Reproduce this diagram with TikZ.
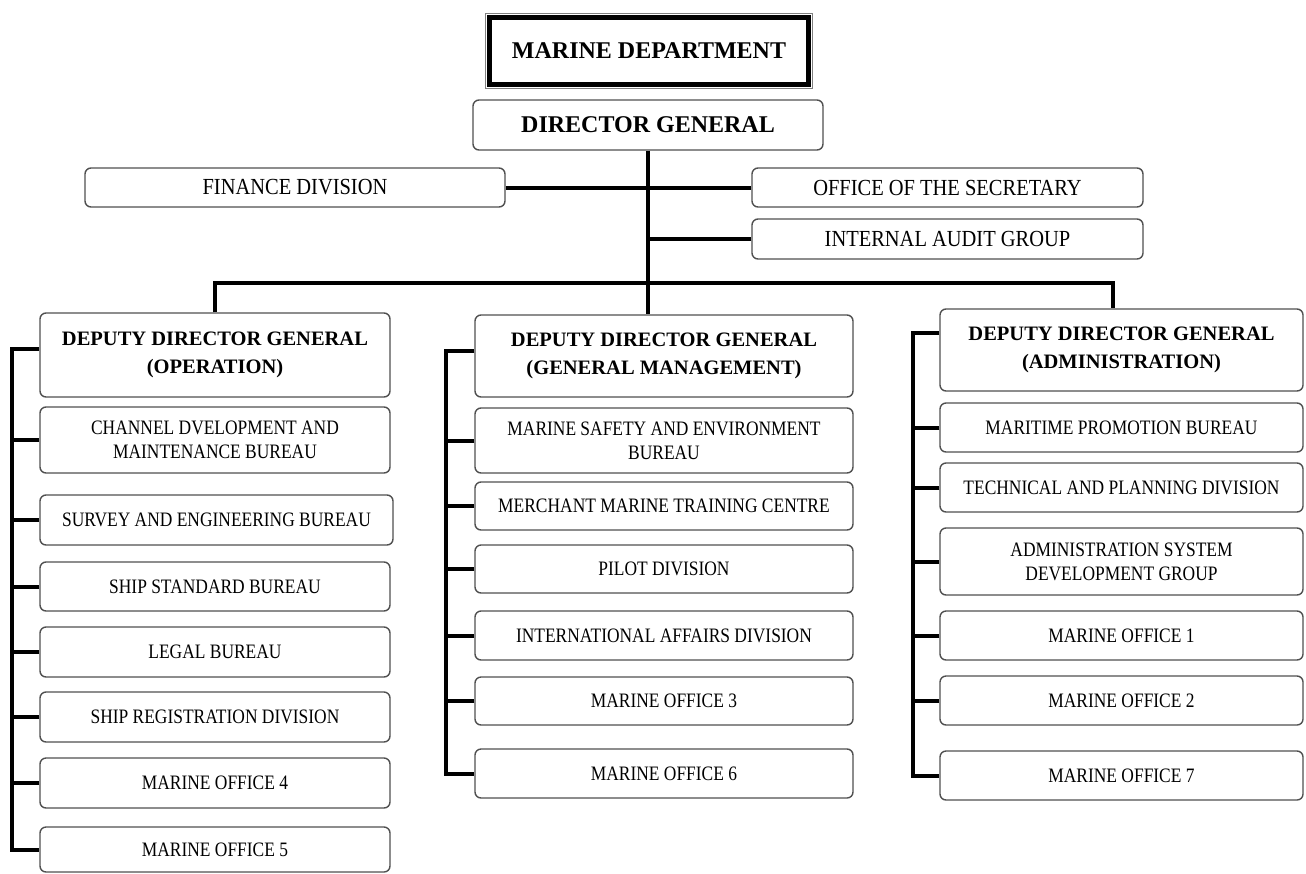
\documentclass[tikz,border=0pt]{standalone}
\usepackage{fontspec}
\setmainfont{Liberation Serif}
\newfontfamily\cond[FakeStretch=0.85]{Liberation Serif}
\newfontfamily\condw[FakeStretch=0.89]{Liberation Serif}
\definecolor{boxgray}{HTML}{505050}
\begin{document}
\begin{tikzpicture}[x=1pt,y=-1pt,
  box/.style={draw=boxgray, line width=1.4pt, rounded corners=6pt, fill=white, inner sep=0pt, align=center, font=\cond\fontsize{20.5}{24}\selectfont},
  topbox/.style={box, font=\condw\fontsize{23}{26}\selectfont},
  hbox/.style={box, font=\bfseries\fontsize{20.5}{28}\selectfont},
  conn/.style={line width=4pt, black}]
\useasboundingbox (0,0) rectangle (1306,873);

% title
\draw[gray, line width=1pt] (485.5,13.5) rectangle (812.5,88.5);
\node[draw=black, line width=3.5pt, inner sep=0pt, minimum width=320pt, minimum height=68pt, font=\bfseries\fontsize{24}{28}\selectfont] (md) at (649,51) {MARINE DEPARTMENT};
\draw[line width=1pt] ([xshift=4.5pt,yshift=4.5pt]md.south west) rectangle ([xshift=-4.5pt,yshift=-4.5pt]md.north east);

\node[box, minimum width=350pt, minimum height=50pt, font=\bfseries\fontsize{24}{28}\selectfont] (dg) at (648,125) {DIRECTOR GENERAL};
\node[topbox, minimum width=420pt, minimum height=39pt] (fin) at (295,187.5) {FINANCE DIVISION};
\node[topbox, minimum width=391pt, minimum height=39pt] (sec) at (947.5,187.5) {OFFICE OF THE SECRETARY};
\node[topbox, minimum width=391pt, minimum height=40pt] (aud) at (947.5,239) {INTERNAL AUDIT GROUP};

% operation column
\node[hbox, minimum width=350pt, minimum height=84pt] (op) at (215,355) {DEPUTY DIRECTOR GENERAL\\(OPERATION)};
\node[box, minimum width=350pt, minimum height=66pt] (chan) at (215,440) {CHANNEL DVELOPMENT AND\\MAINTENANCE BUREAU};
\node[box, minimum width=353pt, minimum height=50pt] (surv) at (216.5,520) {SURVEY AND ENGINEERING BUREAU};
\node[box, minimum width=350pt, minimum height=49pt] (ship) at (215,586.5) {SHIP STANDARD BUREAU};
\node[box, minimum width=350pt, minimum height=50pt] (legal) at (215,652) {LEGAL BUREAU};
\node[box, minimum width=350pt, minimum height=50pt] (reg) at (215,717) {SHIP REGISTRATION DIVISION};
\node[box, minimum width=350pt, minimum height=50pt] (mofour) at (215,783) {MARINE OFFICE 4};
\node[box, minimum width=350pt, minimum height=45pt] (mofive) at (215,849.5) {MARINE OFFICE 5};

% general management column
\node[hbox, minimum width=378pt, minimum height=82pt] (gm) at (664,356) {DEPUTY DIRECTOR GENERAL\\(GENERAL MANAGEMENT)};
\node[box, minimum width=378pt, minimum height=65pt] (safe) at (664,440.5) {MARINE SAFETY AND ENVIRONMENT\\BUREAU};
\node[box, minimum width=378pt, minimum height=48pt] (merch) at (664,506) {MERCHANT MARINE TRAINING CENTRE};
\node[box, minimum width=378pt, minimum height=48pt] (pilot) at (664,569) {PILOT DIVISION};
\node[box, minimum width=378pt, minimum height=49pt] (intl) at (664,635.5) {INTERNATIONAL AFFAIRS DIVISION};
\node[box, minimum width=378pt, minimum height=48pt] (mothree) at (664,701) {MARINE OFFICE 3};
\node[box, minimum width=378pt, minimum height=49pt] (mosix) at (664,773.5) {MARINE OFFICE 6};

% administration column
\node[hbox, minimum width=363pt, minimum height=82pt] (ad) at (1121.5,350) {DEPUTY DIRECTOR GENERAL\\(ADMINISTRATION)};
\node[box, minimum width=363pt, minimum height=49pt] (prom) at (1121.5,427.5) {MARITIME PROMOTION BUREAU};
\node[box, minimum width=363pt, minimum height=49pt] (tech) at (1121.5,487.5) {TECHNICAL AND PLANNING DIVISION};
\node[box, minimum width=363pt, minimum height=67pt] (asys) at (1121.5,561.5) {ADMINISTRATION SYSTEM\\DEVELOPMENT GROUP};
\node[box, minimum width=363pt, minimum height=49pt] (moone) at (1121.5,635.5) {MARINE OFFICE 1};
\node[box, minimum width=363pt, minimum height=49pt] (motwo) at (1121.5,700.5) {MARINE OFFICE 2};
\node[box, minimum width=363pt, minimum height=49pt] (moseven) at (1121.5,775.5) {MARINE OFFICE 7};

% spine coordinates
\coordinate (opsp) at (12,0);
\coordinate (gmsp) at (446,0);
\coordinate (adsp) at (913,0);
\coordinate (bus) at (648,283);

% top connectors
\draw[conn] (dg.south) -- (dg.south |- gm.north);
\draw[conn] (op.north) |- (bus) -| ([xshift=-9pt]ad.north);
\draw[conn] (fin.east) -- (fin.east -| dg.south);
\draw[conn] (sec.west) -- (sec.west -| dg.south);
\draw[conn] (aud.west) -- (aud.west -| dg.south);

% operation spine
\draw[conn] ([yshift=6pt]op.west) -| (opsp |- mofive.west) -- (mofive.west);
\foreach \n in {chan,surv,ship,legal,reg,mofour}
  \draw[conn] (\n.west) -- (\n.west -| opsp);

% general management spine
\draw[conn] ([yshift=5pt]gm.west) -| (gmsp |- mosix.west) -- (mosix.west);
\foreach \n in {safe,merch,pilot,intl,mothree}
  \draw[conn] (\n.west) -- (\n.west -| gmsp);

% administration spine
\draw[conn] ([yshift=17pt]ad.west) -| (adsp |- moseven.west) -- (moseven.west);
\foreach \n in {prom,tech,asys,moone,motwo}
  \draw[conn] (\n.west) -- (\n.west -| adsp);
\end{tikzpicture}
\end{document}
